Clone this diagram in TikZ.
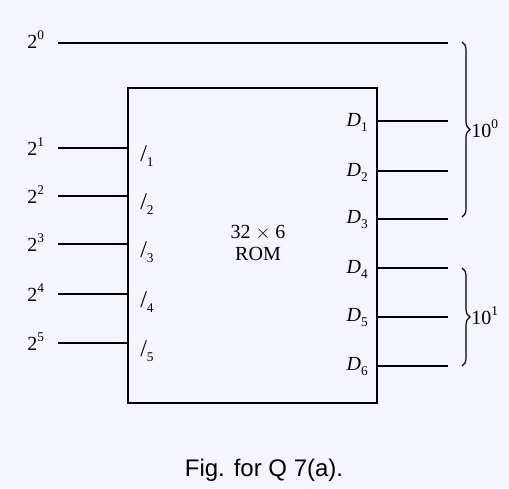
\documentclass[tikz,border=0pt]{standalone}
\usepackage{fontspec}
\setmainfont{Liberation Serif}
\newfontfamily\capfont{Liberation Sans}
\usetikzlibrary{decorations.pathreplacing}
\newcommand{\sps}[1]{\raisebox{0.45em}{\fontsize{10}{10}\selectfont #1}}
\newcommand{\sbs}[1]{\raisebox{-0.25em}{\fontsize{10}{10}\selectfont #1}}
\begin{document}
\begin{tikzpicture}[x=0.75pt,y=-0.75pt,
  wire/.style={line width=1.1pt},
  lbl/.style={inner sep=0pt,font=\fontsize{15}{17}\selectfont},
  brc/.style={line width=0.9pt,decorate,decoration={brace,amplitude=6pt}}]
\useasboundingbox (0,0) rectangle (509,488);
\fill[white!96!blue] (0,0) rectangle (509,488);
% ROM box
\node[draw,line width=1.5pt,minimum width=249*0.75pt,minimum height=315*0.75pt,inner sep=0pt] (rom) at (252.5,245.5) {};
\node[lbl,align=center] (romtxt) at (258,243) {32 $\times$ 6\\ROM};
% 2^0 line
\node[lbl,anchor=west] (a0) at (27,40) {2\sps{0}};
\coordinate (a0s) at (58,43);
\coordinate (a0e) at (448,43);
\draw[wire] (a0s) -- (a0e);
% inputs
\foreach \i/\y in {1/148,2/196,3/244,4/294,5/343}{
  \node[lbl,anchor=west] (a\i) at (27,\y-1) {2\sps{\i}};
  \coordinate (s\i) at (58,\y);
  \coordinate (e\i) at (rom.west |- s\i);
  \draw[wire] (s\i) -- (e\i);
  \node[lbl,anchor=west] (I\i) at (140,\y+8) {{\fontsize{18}{18}\selectfont /}\sbs{\i}};
}
% outputs
\foreach \i/\y in {1/121,2/171,3/219,4/268,5/317,6/366}{
  \coordinate (os\i) at (rom.east |- 0,\y);
  \coordinate (oe\i) at (448,\y);
  \draw[wire] (os\i) -- (oe\i);
  \node[lbl,anchor=east] (D\i) at (368,\y+1) {\textit{D}\sbs{\i}};
}
% braces
\coordinate (b1t) at (462,42);
\coordinate (b1b) at (462,217);
\draw[brc] (b1t) -- (b1b);
\node[lbl,anchor=west] (t0) at (471,129) {10\sps{0}};
\coordinate (b2t) at (462,268);
\coordinate (b2b) at (462,366);
\draw[brc] (b2t) -- (b2b);
\node[lbl,anchor=west] (t1) at (471,316) {10\sps{1}};
% caption
\node[inner sep=0pt,font=\capfont\fontsize{18}{20}\selectfont] (cap) at (264,470) {Fig. for Q 7(a).};
\end{tikzpicture}
\end{document}
